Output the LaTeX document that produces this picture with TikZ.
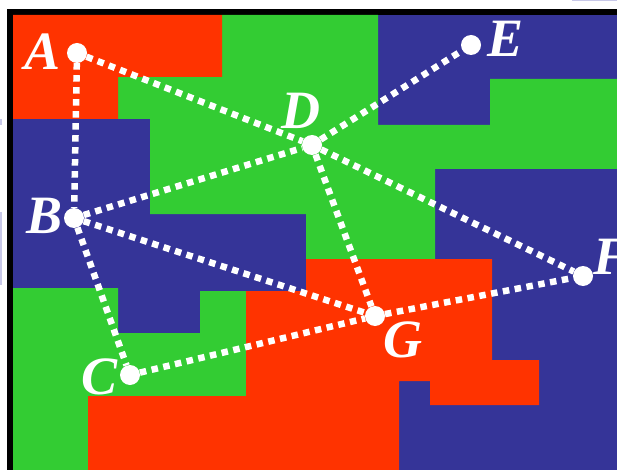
\documentclass[tikz,border=0pt]{standalone}
\usepackage{fontspec}
\setmainfont{Liberation Serif}
\definecolor{cred}{RGB}{255,51,0}
\definecolor{cgreen}{RGB}{51,204,51}
\definecolor{cblue}{RGB}{53,52,152}
\definecolor{lav}{RGB}{200,200,232}
\begin{document}
\begin{tikzpicture}[x=1pt,y=-1pt,
  dotnode/.style={circle,fill=white,minimum size=20pt,inner sep=0pt},
  lbl/.style={text=white,font=\fontsize{54}{54}\selectfont\bfseries\itshape,inner sep=0pt},
  link/.style={white,line width=6.5pt,dash pattern=on 6.5pt off 5.5pt}]
\useasboundingbox (0,0) rectangle (617,470);
\fill[white] (0,0) rectangle (617,470);
\fill[lav] (572,0) rectangle (617,1.5);
\fill[lav] (0,119) rectangle (1.5,125);
\fill[lav] (0,212) rectangle (1.5,285);
\fill[black] (7,9) rectangle (625,480);
\fill[cblue] (13,15) rectangle (625,480);
% green upper
\fill[cgreen] (222,15) -- (378,15) -- (378,125) -- (490,125) -- (490,79) -- (625,79)
  -- (625,169) -- (435,169) -- (435,259) -- (306,259) -- (306,214) -- (150,214)
  -- (150,119) -- (118,119) -- (118,77) -- (222,77) -- cycle;
% red upper-left
\fill[cred] (13,15) -- (222,15) -- (222,77) -- (118,77) -- (118,119) -- (13,119) -- cycle;
% green lower-left
\fill[cgreen] (13,288) -- (118,288) -- (118,333) -- (200,333) -- (200,291) -- (246,291)
  -- (246,396) -- (88,396) -- (88,480) -- (13,480) -- cycle;
% red lower
\fill[cred] (246,291) -- (306,291) -- (306,259) -- (492,259) -- (492,360) -- (539,360)
  -- (539,405) -- (430,405) -- (430,381) -- (399,381) -- (399,480) -- (88,480)
  -- (88,396) -- (246,396) -- cycle;
% nodes
\node[dotnode] (A) at (77,53) {};
\node[dotnode] (B) at (74,218) {};
\node[dotnode] (C) at (130,375) {};
\node[dotnode] (D) at (312,145) {};
\node[dotnode] (E) at (471,45) {};
\node[dotnode] (F) at (583,276) {};
\node[dotnode] (G) at (375,316) {};
% edges
\draw[link] (A) -- (B);
\draw[link] (A) -- (D);
\draw[link] (B) -- (D);
\draw[link] (B) -- (G);
\draw[link] (B) -- (C);
\draw[link] (C) -- (G);
\draw[link] (D) -- (E);
\draw[link] (D) -- (F);
\draw[link] (D) -- (G);
\draw[link] (G) -- (F);
% labels
\node[lbl] (lA) at (43,52) {A};
\node[lbl] (lB) at (45,216) {B};
\node[lbl] (lC) at (100,377) {C};
\node[lbl] (lD) at (301,111) {D};
\node[lbl] (lE) at (505,39) {E};
\node[lbl] (lF) at (611,257) {F};
\node[lbl] (lG) at (403,340) {G};
\end{tikzpicture}
\end{document}
